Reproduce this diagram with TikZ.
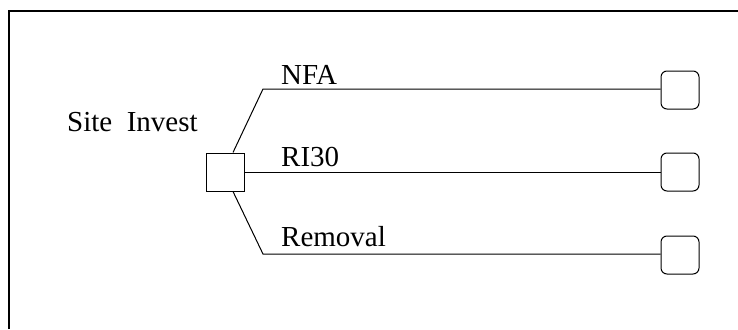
\documentclass[tikz,border=0pt]{standalone}
\usepackage{fontspec}
\setmainfont{Liberation Serif}
\begin{document}
\begin{tikzpicture}[x=1pt,y=-1pt,
  line/.style={draw=black,line width=1pt},
  decbox/.style={draw=black,line width=1pt,minimum width=38pt,minimum height=38pt,inner sep=0pt},
  endbox/.style={draw=black,line width=1pt,rounded corners=6pt,minimum width=38pt,minimum height=38pt,inner sep=0pt},
  lbl/.style={anchor=base west,inner sep=0pt,font=\fontsize{29}{34}\selectfont}]
\useasboundingbox (0,0) rectangle (738,329);
% frame
\coordinate (fb) at (8.5,329);
\coordinate (ftl) at (8.5,11.5);
\coordinate (ftr) at (738,11.5);
\draw[line width=2pt] (fb) -- (ftl) -- (ftr);
% nodes
\node[decbox] (dec) at (225,172) {};
\node[endbox] (t1) at (680,90) {};
\node[endbox] (t2) at (680,172) {};
\node[endbox] (t3) at (680,255) {};
\coordinate (k1) at (263,89);
\coordinate (k3) at (263,254);
% connectors
\draw[line] ([xshift=8pt]dec.north) -- (k1) -- (t1.west |- k1);
\draw[line] (dec.east) -- (t2.west);
\draw[line] ([xshift=8pt]dec.south) -- (k3) -- (t3.west |- k3);
% labels
\node[lbl] (site) at (67,131) {Site\ \ Invest};
\node[lbl] (nfa) at (281,84) {NFA};
\node[lbl] (ri) at (281,166) {RI30};
\node[lbl] (rem) at (281,246) {Removal};
\end{tikzpicture}
\end{document}
